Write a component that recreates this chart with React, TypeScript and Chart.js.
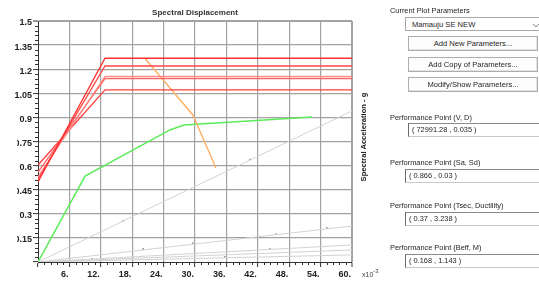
import React, { useEffect, useRef } from 'react';
import { Chart, registerables } from 'chart.js';
Chart.register(...registerables);

// ---- axes ----
const X_MIN = 0;
const X_MAX = 60;
const X_STEP = 6;
const X_MINOR = 1.2;
const Y_MIN = 0;
const Y_MAX = 1.5;
const Y_STEP = 0.15;
const Y_MINOR = 0.03;

// ---- demand spectra (red) ----
const demandStartSa = [0.498, 0.515, 0.529, 0.56, 0.604];
const demandKneeSd = [12.8, 12.8, 12.8, 12.8, 12.8];
const demandPlateauSa = [1.268, 1.22, 1.155, 1.142, 1.071];
const demandColors = ['#ff3030', '#ff4848', '#ff8c8c', '#ff6464', '#ff3c3c'];

// ---- capacity curve (green) ----
const capacitySd = [0, 9.0, 25.2, 27.9, 52.4];
const capacitySa = [0, 0.535, 0.822, 0.853, 0.902];

// ---- performance path (orange) ----
const pathSd = [20.4, 29.6, 34.0];
const pathSa = [1.268, 0.915, 0.585];

// ---- constant period lines (gray) ----
const periodEndSa = [0.94, 0.224, 0.106, 0.075, 0.044];
const periodDotSd = [16.2, 40.5, 20.1, 29.6, 39.2, 45.5, 55.2, 10.3, 44.3, 8.4, 35.7];
const periodDotSa = [0.255, 0.639, 0.081, 0.118, 0.149, 0.174, 0.212, 0.02, 0.081, 0.01, 0.031];

// ---- panel ----
const panelTitle = 'Current Plot Parameters';
const selectedParam = 'Mamauju SE NEW';
const buttonLabels = ['Add New Parameters...', 'Add Copy of Parameters...', 'Modify/Show Parameters...'];
const ppLabels = ['Performance Point (V, D)', 'Performance Point (Sa, Sd)', 'Performance Point (Tsec, Ductility)', 'Performance Point (Beff, M)'];
const ppValues = ['( 72991.28 , 0.035 )', '( 0.866 , 0.03 )', '( 0.37 , 3.238 )', '( 0.168 , 1.143 )'];

const FONT = '"Liberation Sans", Arial, sans-serif';

const minorTicks = {
  id: 'minorTicks',
  afterDraw(chart: any) {
    const { ctx, chartArea } = chart;
    const x = chart.scales.x;
    const y = chart.scales.y;
    ctx.save();
    ctx.strokeStyle = '#333';
    ctx.lineWidth = 1;
    ctx.beginPath();
    const nx = Math.round((X_MAX - X_MIN) / X_MINOR);
    for (let i = 1; i < nx; i++) {
      if (i % 5 === 0) continue;
      const px = Math.round(x.getPixelForValue(X_MIN + i * X_MINOR)) + 0.5;
      ctx.moveTo(px, chartArea.bottom);
      ctx.lineTo(px, chartArea.bottom + 3);
    }
    const ny = Math.round((Y_MAX - Y_MIN) / Y_MINOR);
    for (let i = 1; i < ny; i++) {
      if (i % 5 === 0) continue;
      const py = Math.round(y.getPixelForValue(Y_MIN + i * Y_MINOR)) + 0.5;
      ctx.moveTo(chartArea.left - 3, py);
      ctx.lineTo(chartArea.left, py);
    }
    ctx.stroke();
    ctx.restore();
  },
};

function ChartCanvas() {
  const ref = useRef<HTMLCanvasElement>(null);
  useEffect(() => {
    const canvas = ref.current!;
    const datasets: any[] = [];
    periodEndSa.forEach((e) =>
      datasets.push({
        data: [{ x: 0, y: 0 }, { x: X_MAX, y: e }],
        borderColor: '#d2d2d2',
        borderWidth: 1,
        pointRadius: 0,
        showLine: true,
      })
    );
    datasets.push({
      data: periodDotSd.map((v, i) => ({ x: v, y: periodDotSa[i] })),
      showLine: false,
      pointRadius: 0.9,
      pointBackgroundColor: '#8a8a8a',
      pointBorderWidth: 0,
    });
    demandPlateauSa.forEach((p, i) =>
      datasets.push({
        data: [
          { x: 0, y: demandStartSa[i] },
          { x: demandKneeSd[i], y: p },
          { x: X_MAX, y: p },
        ],
        borderColor: demandColors[i],
        borderWidth: 1.3,
        pointRadius: 0,
        showLine: true,
      })
    );
    datasets.push({
      data: pathSd.map((v, i) => ({ x: v, y: pathSa[i] })),
      borderColor: '#ffb066',
      borderWidth: 1.4,
      pointRadius: 0,
      showLine: true,
    });
    datasets.push({
      data: capacitySd.map((v, i) => ({ x: v, y: capacitySa[i] })),
      borderColor: '#5cec58',
      borderWidth: 1.5,
      pointRadius: 0,
      showLine: true,
    });

    const tickFont = { size: 9, weight: 'bold' as const, family: FONT };
    const chart = new Chart(canvas, {
      type: 'scatter',
      data: { datasets },
      options: {
        animation: false,
        responsive: false,
        events: [],
        plugins: { legend: { display: false }, tooltip: { enabled: false }, title: { display: false } },
        layout: { padding: { top: 21, right: 40, left: 0, bottom: 0 } },
        scales: {
          x: {
            type: 'linear',
            min: X_MIN,
            max: X_MAX,
            afterFit: (s: any) => { s.height = 19; },
            ticks: {
              stepSize: X_STEP,
              autoSkip: false,
              maxRotation: 0,
              align: 'end',
              labelOffset: -1,
              padding: 2,
              color: '#222',
              font: tickFont,
              callback: (v: any) => (v === 0 ? '' : `${v}.`),
            },
            grid: {
              color: (c: any) => (c.tick && c.tick.value === X_MIN ? 'rgba(0,0,0,0)' : '#a2a2a2'),
              lineWidth: (c: any) => (c.tick && c.tick.value === X_MAX ? 2 : 1.2),
              tickColor: '#333',
              tickLength: 5,
              tickWidth: 1,
            },
            border: { color: '#333', width: 1 },
          },
          y: {
            type: 'linear',
            min: Y_MIN,
            max: Y_MAX,
            afterFit: (s: any) => { s.width = 38; },
            ticks: {
              stepSize: Y_STEP,
              autoSkip: false,
              labelOffset: 2,
              padding: 1,
              color: '#222',
              font: tickFont,
              callback: (v: any) => (v === 0 ? '' : String(Math.round(v * 100) / 100)),
            },
            grid: {
              color: (c: any) => (c.tick && c.tick.value === Y_MIN ? 'rgba(0,0,0,0)' : '#a2a2a2'),
              lineWidth: (c: any) => (c.tick && Math.abs(c.tick.value - Y_MAX) < 1e-6 ? 2 : 1.2),
              tickColor: '#333',
              tickLength: 5,
              tickWidth: 1,
            },
            border: { color: '#333', width: 1 },
          },
        },
      },
      plugins: [minorTicks],
    } as any);
    return () => chart.destroy();
  }, []);
  return <canvas ref={ref} width={392} height={281} style={{ position: 'absolute', left: 0, top: 0, width: 392, height: 281 }} />;
}

const textStyle: React.CSSProperties = {
  position: 'absolute',
  font: `7.4px ${FONT}`,
  color: '#1e1e1e',
  whiteSpace: 'nowrap',
  lineHeight: '9px',
};

function Button({ label, top }: { label: string; top: number }) {
  return (
    <div
      style={{
        position: 'absolute',
        left: 408,
        top,
        width: 128,
        height: 13,
        border: '1px solid #adadad',
        background: '#fdfdfd',
        boxShadow: 'inset -1px -1px 0 #e2e2e2',
        font: `7.6px ${FONT}`,
        color: '#1e1e1e',
        textAlign: 'center',
        lineHeight: '13px',
        whiteSpace: 'nowrap',
      }}
    >
      {label}
    </div>
  );
}

function ValueBox({ text, top, left }: { text: string; top: number; left: number }) {
  return (
    <div
      style={{
        position: 'absolute',
        left,
        top,
        width: 538 - left - 2,
        height: 12,
        borderTop: '1px solid #8a8a8a',
        borderLeft: '1px solid #6a6a6a',
        borderRight: '1px solid #c8c8c8',
        borderBottom: '1px solid #c8c8c8',
        background: '#fff',
        font: `7.4px ${FONT}`,
        color: '#1e1e1e',
        lineHeight: '12px',
        paddingLeft: 3,
        boxSizing: 'content-box',
        whiteSpace: 'nowrap',
      }}
    >
      {text}
    </div>
  );
}

export default function App() {
  const labelTops = [112.5, 157.5, 200.5, 242.5];
  const boxTops = [123, 169, 212, 254];
  const boxLefts = [408, 405, 405, 405];
  const buttonTops = [36, 57, 77];
  return (
    <div style={{ position: 'fixed', left: 0, top: 0, width: 539, height: 281, background: '#fff', overflow: 'hidden' }}>
      <ChartCanvas />
      {/* the reference screenshot crops the leading zero of the lower tick labels */}
      <div style={{ position: 'absolute', left: 0, top: 132, width: 16.5, height: 120, background: '#fff' }} />
      <div style={{ position: 'absolute', left: 195, top: 12, transform: 'translate(-50%, -50%)', font: `bold 8px ${FONT}`, color: '#333', whiteSpace: 'nowrap' }}>
        Spectral Displacement
      </div>
      <div style={{ position: 'absolute', left: 363, top: 137, transform: 'translate(-50%, -50%) rotate(-90deg)', font: `bold 7.6px ${FONT}`, color: '#222', whiteSpace: 'nowrap' }}>
        Spectral Acceleration - g
      </div>
      <div style={{ position: 'absolute', left: 362, top: 269, font: `7px ${FONT}`, color: '#444', whiteSpace: 'nowrap' }}>
        x10<sup style={{ fontSize: '6px', position: 'relative', top: -1 }}>-3</sup>
      </div>
      <div style={{ ...textStyle, left: 390, top: 5.5 }}>{panelTitle}</div>
      <div
        style={{
          position: 'absolute',
          left: 405,
          top: 17,
          width: 140,
          height: 14,
          border: '1px solid #a8a8a8',
          background: '#fff',
          font: `7.6px ${FONT}`,
          color: '#1e1e1e',
          lineHeight: '14px',
          paddingLeft: 6,
          boxSizing: 'border-box',
          whiteSpace: 'nowrap',
        }}
      >
        {selectedParam}
        <svg width="8" height="6" style={{ position: 'absolute', left: 126, top: 5 }}>
          <polyline points="1,1 4,4 7,1" fill="none" stroke="#777" strokeWidth="0.9" />
        </svg>
      </div>
      {buttonLabels.map((b, i) => (
        <Button key={b} label={b} top={buttonTops[i]} />
      ))}
      {ppLabels.map((l, i) => (
        <div key={l} style={{ ...textStyle, left: 390, top: labelTops[i] }}>{l}</div>
      ))}
      {ppValues.map((v, i) => (
        <ValueBox key={v} text={v} top={boxTops[i]} left={boxLefts[i]} />
      ))}
    </div>
  );
}
